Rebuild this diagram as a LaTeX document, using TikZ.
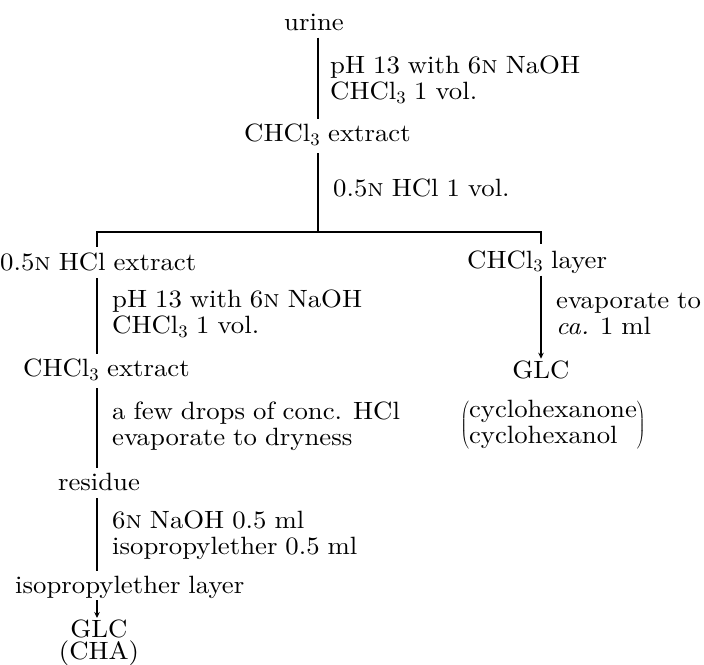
\documentclass[tikz,border=0pt]{standalone}
\usepackage{fontspec}
\setmainfont{lmroman10-regular.otf}[FakeStretch=1.07, WordSpace=0.9, ItalicFont=lmroman10-italic.otf, BoldFont=lmroman10-bold.otf, SmallCapsFont=lmromancaps10-regular.otf]
\usetikzlibrary{arrows.meta,calc}
\begin{document}
\begin{tikzpicture}[x=1pt,y=-1pt,
  every node/.style={font=\fontsize{25}{26}\selectfont, inner sep=0pt, align=left},
  conn/.style={line width=1.1pt, shorten <=7pt, shorten >=5pt},
  arr/.style={line width=1.1pt, shorten <=2pt, shorten >=2pt, -{Stealth[length=6pt,width=5.5pt]}},
  lab/.style={anchor=west}]
\useasboundingbox (0,0) rectangle (704,664);
% line x positions
\coordinate (xa) at (318,0);
\coordinate (xl) at (97,0);
\coordinate (xr) at (541,0);
\coordinate (split) at (318,232);
% nodes
\node (urine) at (314,22) {urine};
\node[anchor=west] (ext1) at (244,135) {CHCl\textsubscript{3} extract};
\node[anchor=west] (hclext) at (0,262) {0.5\textsc{n} HCl extract};
\node[anchor=west] (layer) at (467,262) {CHCl\textsubscript{3} layer};
\node (glc2) at (541,370) {GLC};
\node (cyc) at (553,425) {$\left(\mbox{\begin{tabular}{@{}l@{}}cyclohexanone\\cyclohexanol\end{tabular}}\right)$};
\node[anchor=west] (ext2) at (23,370) {CHCl\textsubscript{3} extract};
\node (residue) at (99,482) {residue};
\node[anchor=west] (ipe) at (15,587) {isopropylether layer};
\node[anchor=north, align=center, font=\fontsize{25}{21.5}\selectfont] (glc1) at (99,620) {GLC\\(CHA)};
% labels
\node[lab] (l1) at (330,80) {pH 13 with 6\textsc{n} NaOH\\CHCl\textsubscript{3} 1 vol.};
\node[lab] (l2) at (333,188) {0.5\textsc{n} HCl 1 vol.};
\node[lab] (l3) at (112,314) {pH 13 with 6\textsc{n} NaOH\\CHCl\textsubscript{3} 1 vol.};
\node[lab] (l4) at (556,314) {evaporate to\\\textit{ca.} 1 ml};
\node[lab] (l5) at (112,426) {a few drops of conc. HCl\\evaporate to dryness};
\node[lab] (l6) at (112,535) {6\textsc{n} NaOH 0.5 ml\\isopropylether 0.5 ml};
% connectors
\draw[conn] (urine.south -| xa) -- (ext1.north -| xa);
\draw[conn, shorten >=0pt] (ext1.south -| xa) -- (split);
\draw[line width=1.1pt, shorten <=6pt, shorten >=6pt] (hclext.north -| xl) -- (xl |- split) -- (xr |- split) -- (layer.north -| xr);
\draw[conn] (hclext.south -| xl) -- (ext2.north -| xl);
\draw[conn] (ext2.south -| xl) -- (residue.north -| xl);
\draw[conn] (residue.south -| xl) -- (ipe.north -| xl);
\draw[arr] (ipe.south -| xl) -- (glc1.north -| xl);
\draw[arr] (layer.south -| xr) -- (glc2.north -| xr);
\end{tikzpicture}
\end{document}
